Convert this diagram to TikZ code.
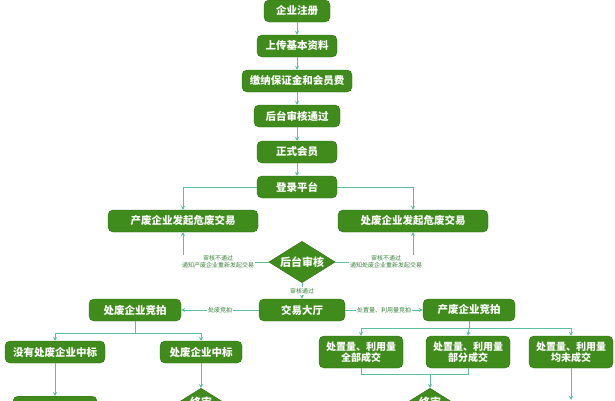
\documentclass[tikz,border=0pt]{standalone}
\usepackage{fontspec}
\setmainfont{Noto Sans CJK SC}
\usetikzlibrary{shapes.geometric,arrows.meta}
\definecolor{gbox}{HTML}{3F8C1C}
\definecolor{gedge}{HTML}{2E6A12}
\definecolor{lnk}{HTML}{5DBFA0}
\tikzset{
 box/.style={rectangle,rounded corners=5pt,fill=gbox,draw=gedge,text=white,font=\fontsize{10.5}{12}\selectfont\bfseries,minimum height=22pt,inner xsep=6pt,align=center},
 dia/.style={diamond,aspect=1.6,fill=gbox,draw=gedge,text=white,font=\fontsize{11}{12}\selectfont\bfseries,inner sep=1pt},
 ln/.style={draw=lnk,line width=0.8pt},
 ar/.style={ln,-{Stealth[length=4pt,width=4pt]}},
 lab/.style={text=gedge!70!lnk,font=\fontsize{6}{7}\selectfont,align=center,fill=white,inner sep=1pt}
}
\begin{document}
\begin{tikzpicture}[x=1pt,y=-1pt]
\useasboundingbox (0,0) rectangle (615,400);
\node[box,minimum width=66pt] (a) at (297,11) {企业注册};
\node[box,minimum width=80pt] (b) at (297,46) {上传基本资料};
\node[box,minimum width=110pt] (c) at (297,81) {缴纳保证金和会员费};
\node[box,minimum width=86pt] (d) at (297,116) {后台审核通过};
\node[box,minimum width=80pt] (e) at (297,152) {正式会员};
\node[box,minimum width=80pt] (f) at (297,187) {登录平台};
\node[box,minimum width=150pt] (g) at (183,221) {产废企业发起危废交易};
\node[box,minimum width=150pt] (h) at (413,221) {处废企业发起危废交易};
\node[dia] (k) at (302,262) {后台审核};
\node[box,minimum width=86pt] (t) at (302,310) {交易大厅};
\node[box,minimum width=92pt] (l) at (135,310) {处废企业竞拍};
\node[box,minimum width=92pt] (r) at (469,310) {产废企业竞拍};
\node[box,minimum width=100pt] (l1) at (55,352) {没有处废企业中标};
\node[box,minimum width=82pt] (l2) at (201,352) {处废企业中标};
\node[box,minimum width=84pt,minimum height=32pt,font=\fontsize{10}{11}\selectfont\bfseries] (r1) at (361,352) {处置量、利用量\\全部成交};
\node[box,minimum width=84pt,minimum height=32pt,font=\fontsize{10}{11}\selectfont\bfseries] (r2) at (468,352) {处置量、利用量\\部分成交};
\node[box,minimum width=84pt,minimum height=32pt,font=\fontsize{10}{11}\selectfont\bfseries] (r3) at (571,352) {处置量、利用量\\均未成交};
\node[dia] (z1) at (201,402) {终审};
\node[dia] (z2) at (430,402) {终审};
\node[box,minimum width=84pt,anchor=north] (lb) at (55,396) {};
\coordinate (z1l) at (113,402);
\coordinate (z1r) at (290,402);
\coordinate (z2l) at (330,402);
\coordinate (z2r) at (500,402);
\foreach \u/\v in {a/b,b/c,c/d,d/e,e/f}{\draw[ar] (\u) -- (\v);}
\draw[ar] (f.west) -| (g.north);
\draw[ar] (f.east) -| (h.north);
\coordinate (gj) at (g.south|-k.west);
\coordinate (hj) at (h.south|-k.east);
\draw[ar] (k.west) -- (gj) -- (g.south);
\draw[ar] (k.east) -- (hj) -- (h.south);
\node[lab] at (218,262) {审核不通过\\通知产废企业重新发起交易};
\node[lab] at (386,262) {审核不通过\\通知处废企业重新发起交易};
\draw[ar] (k) -- (t) node[lab,midway] {审核通过};
\draw[ar] (t) -- (l) node[lab,midway] {处废竞拍};
\draw[ar] (t) -- (r) node[lab,midway] {处置量、利用量竞拍};
\coordinate (lsp) at (135,333);
\draw[ln] (l.south) -- (lsp);
\draw[ar] (lsp) -| (l1.north);
\draw[ar] (lsp) -| (l2.north);
\coordinate (rsp) at (469,328);
\draw[ln] (r.south) -- (rsp);
\draw[ar] (rsp) -| (r1.north);
\draw[ar] (rsp) -- (r2.north);
\draw[ar] (rsp) -| (r3.north);
\draw[ar] (l1) -- (lb);
\draw[ar] (l2) -- (z1);
\coordinate (rj) at (430,374);
\draw[ln] (r1.south) |- (rj) -| (r2.south);
\draw[ar] (rj) -- (z2);
\coordinate (r3e) at (571,400);
\draw[ar] (r3.south) -- (r3e);
\draw[ln] (z1.west) -- (z1l);
\draw[ln] (z1.east) -- (z1r);
\draw[ln] (z2.west) -- (z2l);
\draw[ln] (z2.east) -- (z2r);
\end{tikzpicture}
\end{document}
